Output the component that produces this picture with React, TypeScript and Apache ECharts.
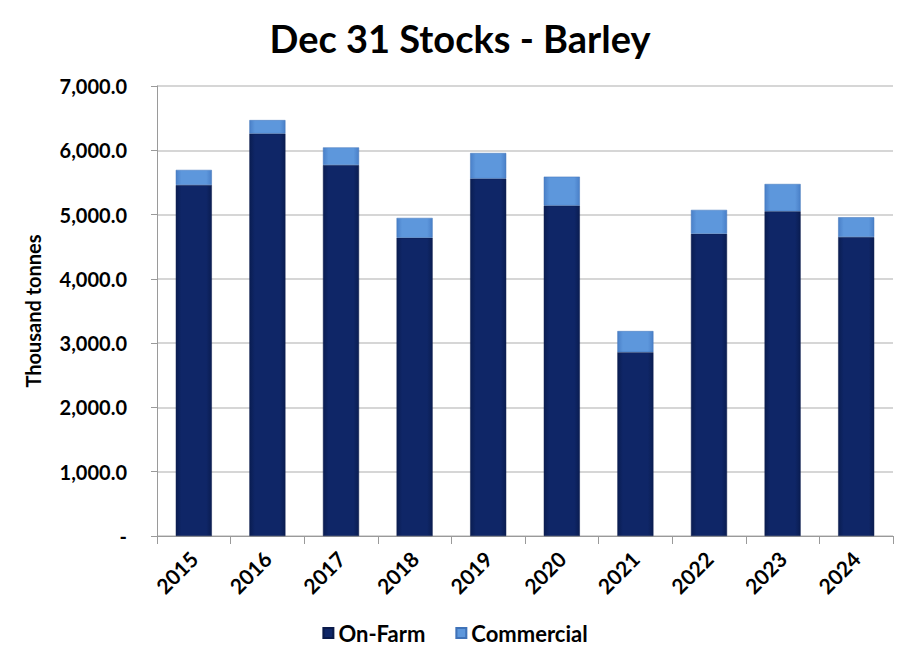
import React, { useEffect, useRef } from "react";
import * as echarts from "echarts";

const years = ["2015", "2016", "2017", "2018", "2019", "2020", "2021", "2022", "2023", "2024"];
const onFarm = [5460, 6260, 5770, 4640, 5560, 5140, 2860, 4700, 5050, 4650];
const commercial = [235, 210, 275, 308, 398, 450, 328, 373, 426, 308];

const FONT = "Lato, 'Open Sans', sans-serif";

export default function App() {
  const ref = useRef<HTMLDivElement>(null);
  useEffect(() => {
    if (!ref.current) return;
    const chart = echarts.init(ref.current, undefined, { renderer: "svg" });
    const darkGrad = new echarts.graphic.LinearGradient(0, 0, 1, 0, [
      { offset: 0, color: "#0a1d52" },
      { offset: 0.15, color: "#0f2667" },
      { offset: 0.85, color: "#0f2667" },
      { offset: 1, color: "#0a1d52" },
    ]);
    const lightGrad = new echarts.graphic.LinearGradient(0, 0, 1, 0, [
      { offset: 0, color: "#4a80c8" },
      { offset: 0.15, color: "#5d97dc" },
      { offset: 0.85, color: "#5d97dc" },
      { offset: 1, color: "#4a80c8" },
    ]);
    chart.setOption({
      animation: false,
      backgroundColor: "#ffffff",
      title: {
        text: "Dec 31 Stocks - Barley",
        left: 455,
        textAlign: "center",
        top: 14,
        textStyle: { fontFamily: FONT, fontWeight: "bold", fontSize: 38, color: "#000" },
      },
      grid: { left: 157, right: 17, top: 86, bottom: 124 },
      legend: {
        bottom: 11,
        left: "center",
        itemWidth: 10,
        itemHeight: 10,
        itemGap: 30,
        icon: "rect",
        textStyle: { fontFamily: FONT, fontWeight: "bold", fontSize: 22, color: "#000" },
        data: ["On-Farm", "Commercial"],
      },
      xAxis: {
        type: "category",
        data: years,
        axisLine: { lineStyle: { color: "#9a9a9a" } },
        axisTick: { show: true, length: 8, alignWithLabel: false, lineStyle: { color: "#9a9a9a" } },
        axisLabel: {
          rotate: 45,
          margin: 19,
          fontFamily: FONT,
          fontWeight: "bold",
          fontSize: 21,
          color: "#000",
        },
      },
      yAxis: {
        type: "value",
        min: 0,
        max: 7000,
        interval: 1000,
        name: "Thousand tonnes",
        nameLocation: "middle",
        nameGap: 114,
        nameTextStyle: { fontFamily: FONT, fontWeight: "bold", fontSize: 20, color: "#000" },
        axisLine: { show: true, lineStyle: { color: "#9a9a9a" } },
        axisTick: { show: true, length: 6, lineStyle: { color: "#9a9a9a" } },
        splitLine: { lineStyle: { color: "#c8c8c8", width: 1.5 } },
        axisLabel: {
          margin: 30,
          fontFamily: FONT,
          fontWeight: "bold",
          fontSize: 20,
          color: "#000",
          formatter: (v: number) =>
            v === 0
              ? "-"
              : v.toLocaleString("en-US", { minimumFractionDigits: 1, maximumFractionDigits: 1 }),
        },
      },
      series: [
        {
          name: "On-Farm",
          type: "bar",
          stack: "s",
          barWidth: "49%",
          data: onFarm,
          itemStyle: { color: darkGrad, borderColor: "#0a1a4a", borderWidth: 0.5 },
        },
        {
          name: "Commercial",
          type: "bar",
          stack: "s",
          barWidth: "49%",
          data: commercial,
          itemStyle: { color: lightGrad, borderColor: "#3f72b8", borderWidth: 0.5 },
        },
      ],
      color: ["#0f2667", "#5d97dc"],
    });
    return () => chart.dispose();
  }, []);
  return <div ref={ref} style={{ width: 910, height: 660, margin: -8 }} />;
}
